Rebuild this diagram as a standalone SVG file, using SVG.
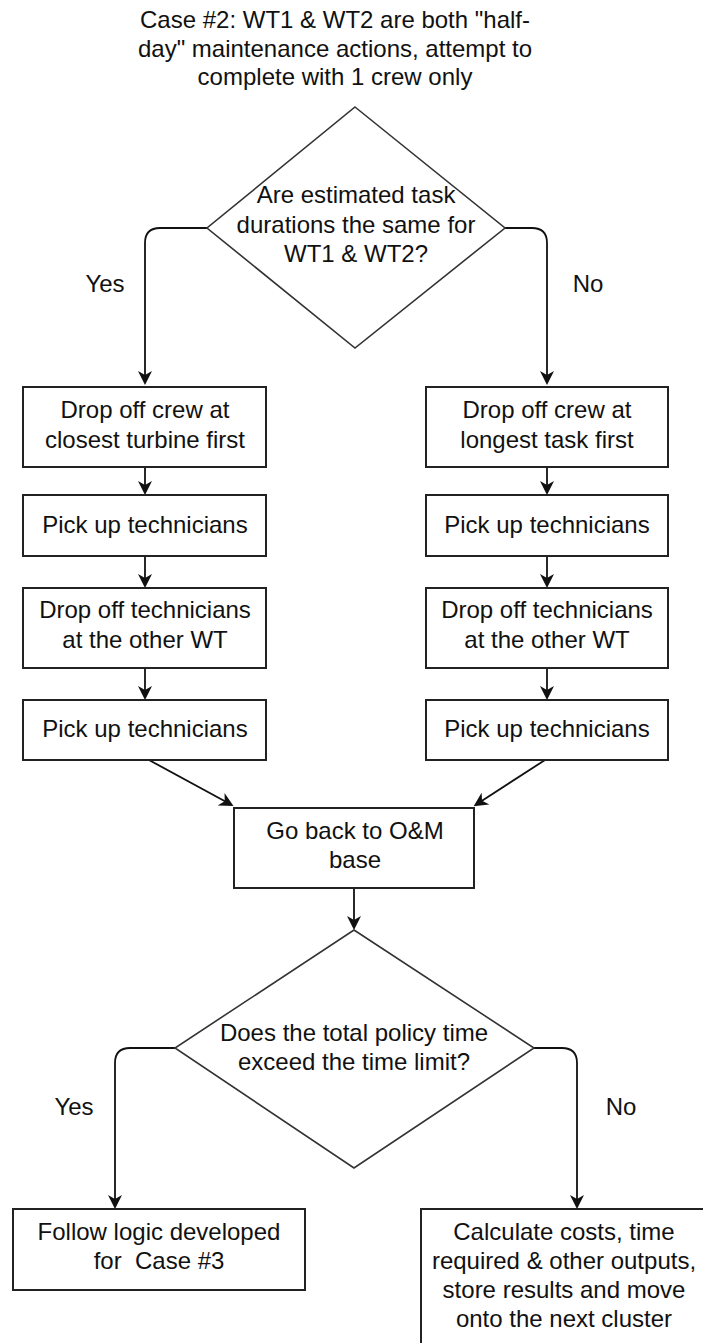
<svg xmlns="http://www.w3.org/2000/svg" width="703" height="1343" viewBox="0 0 703 1343">
  <style>
    .box { fill: #ffffff; stroke: #222222; stroke-width: 2; }
    .dia { fill: #ffffff; stroke: #333333; stroke-width: 1.6; }
    .edge { fill: none; stroke: #111111; stroke-width: 1.8; }
    text { font-family: "Liberation Sans", Arial, sans-serif; font-size: 24px; fill: #111111; text-anchor: middle; }
  </style>
  <defs>
    <marker id="arrow" markerUnits="userSpaceOnUse" viewBox="0 0 14 14" refX="10" refY="7" markerWidth="14" markerHeight="14" orient="auto">
      <path d="M0,0 L14,7 L0,14 L4,7 z" fill="#111111"/>
    </marker>
  </defs>
  <rect width="703" height="1343" fill="#ffffff"/>

  <!-- heading -->
  <g id="title">
    <text x="335" y="28">Case #2: WT1 &amp; WT2 are both "half-</text>
    <text x="335" y="57">day" maintenance actions, attempt to</text>
    <text x="335" y="85">complete with 1 crew only</text>
  </g>

  <!-- connectors -->
  <g id="connectors">
    <path class="edge" d="M207,228 H160 Q145,228 145,243 V381" marker-end="url(#arrow)"/>
    <path class="edge" d="M505,228 H532 Q547,228 547,243 V381" marker-end="url(#arrow)"/>
    <path class="edge" d="M145,467 V491" marker-end="url(#arrow)"/>
    <path class="edge" d="M145,556 V584" marker-end="url(#arrow)"/>
    <path class="edge" d="M145,668 V696" marker-end="url(#arrow)"/>
    <path class="edge" d="M547,467 V491" marker-end="url(#arrow)"/>
    <path class="edge" d="M547,556 V584" marker-end="url(#arrow)"/>
    <path class="edge" d="M547,668 V696" marker-end="url(#arrow)"/>
    <path class="edge" d="M149,760 L230,804" marker-end="url(#arrow)"/>
    <path class="edge" d="M545,760 L477,804" marker-end="url(#arrow)"/>
    <path class="edge" d="M354,888 V926" marker-end="url(#arrow)"/>
    <path class="edge" d="M175,1048 H130 Q115,1048 115,1063 V1205" marker-end="url(#arrow)"/>
    <path class="edge" d="M534,1048 H562 Q577,1048 577,1063 V1205" marker-end="url(#arrow)"/>
    <text x="105" y="292">Yes</text>
    <text x="588" y="292">No</text>
    <text x="74" y="1115">Yes</text>
    <text x="621" y="1115">No</text>
  </g>

  <g id="decision-durations">
    <polygon class="dia" points="355,107 505,228 355,348 207,228"/>
    <text x="356" y="203">Are estimated task</text>
    <text x="356" y="233">durations the same for</text>
    <text x="356" y="262">WT1 &amp; WT2?</text>
  </g>

  <g id="left-drop-crew">
    <rect class="box" x="23" y="387" width="243" height="80"/>
    <text x="145" y="418">Drop off crew at</text>
    <text x="145" y="448">closest turbine first</text>
  </g>
  <g id="left-pick-up-1">
    <rect class="box" x="23" y="495" width="243" height="61"/>
    <text x="145" y="533">Pick up technicians</text>
  </g>
  <g id="left-drop-techs">
    <rect class="box" x="23" y="588" width="243" height="80"/>
    <text x="145" y="618">Drop off technicians</text>
    <text x="145" y="648">at the other WT</text>
  </g>
  <g id="left-pick-up-2">
    <rect class="box" x="23" y="700" width="243" height="60"/>
    <text x="145" y="737">Pick up technicians</text>
  </g>

  <g id="right-drop-crew">
    <rect class="box" x="426" y="387" width="242" height="80"/>
    <text x="547" y="418">Drop off crew at</text>
    <text x="547" y="448">longest task first</text>
  </g>
  <g id="right-pick-up-1">
    <rect class="box" x="426" y="495" width="242" height="61"/>
    <text x="547" y="533">Pick up technicians</text>
  </g>
  <g id="right-drop-techs">
    <rect class="box" x="426" y="588" width="242" height="80"/>
    <text x="547" y="618">Drop off technicians</text>
    <text x="547" y="648">at the other WT</text>
  </g>
  <g id="right-pick-up-2">
    <rect class="box" x="426" y="700" width="242" height="60"/>
    <text x="547" y="737">Pick up technicians</text>
  </g>

  <g id="return-to-base">
    <rect class="box" x="234" y="808" width="240" height="80"/>
    <text x="355" y="839">Go back to O&amp;M</text>
    <text x="355" y="868">base</text>
  </g>

  <g id="decision-time-limit">
    <polygon class="dia" points="354,930 534,1048 354,1168 175,1048"/>
    <text x="354" y="1041">Does the total policy time</text>
    <text x="354" y="1070">exceed the time limit?</text>
  </g>

  <g id="case-3">
    <rect class="box" x="13" y="1209" width="292" height="81"/>
    <text x="159" y="1240">Follow logic developed</text>
    <text x="159" y="1269" xml:space="preserve">for  Case #3</text>
  </g>

  <g id="store-results">
    <rect class="box" x="421" y="1209" width="286" height="160"/>
    <text x="564" y="1240">Calculate costs, time</text>
    <text x="564" y="1269">required &amp; other outputs,</text>
    <text x="564" y="1298">store results and move</text>
    <text x="564" y="1327">onto the next cluster</text>
  </g>
</svg>
